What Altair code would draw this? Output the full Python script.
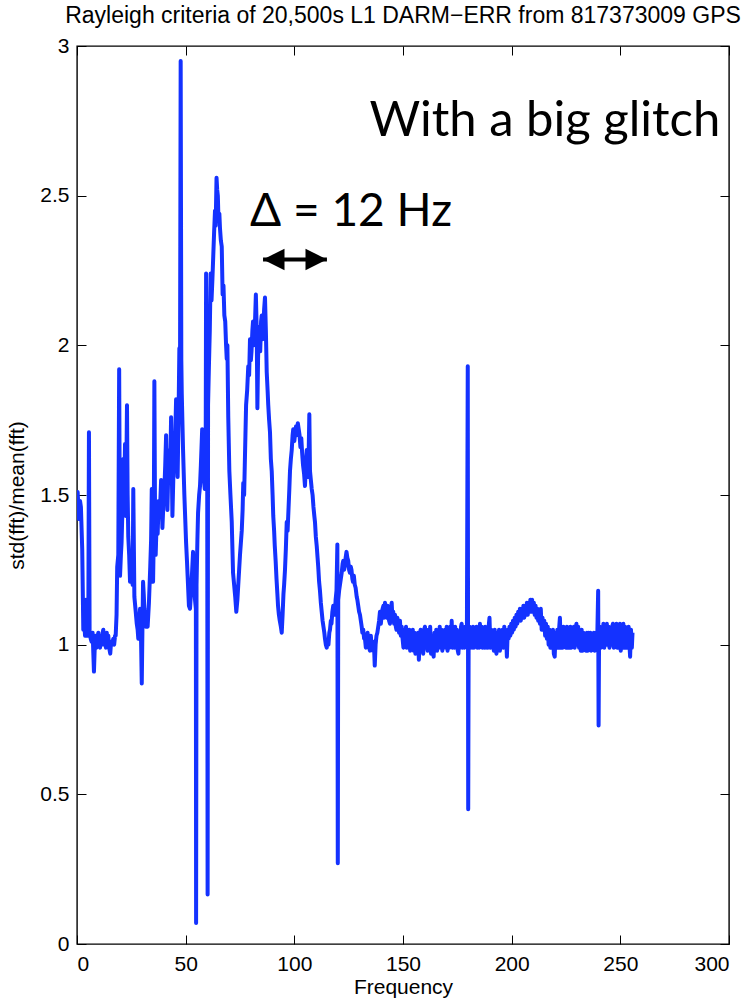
import altair as alt
import pandas as pd

# ---- curve: std(fft)/mean(fft) versus frequency ----
SEG_A_F = [0.0, 0.3, 0.9, 1.4, 1.8, 2.4, 2.9, 3.3, 3.7, 4.1, 4.7, 5.2, 5.5, 5.8, 6.3, 6.7, 7.2, 7.8, 8.2, 8.6,
           9.0, 9.4, 9.8, 10.2, 10.6, 11.0, 11.4, 11.8, 12.1, 12.5, 12.9, 13.3, 13.7, 14.0, 14.4, 14.8, 15.3, 15.7,
           16.1, 16.7, 17.1, 17.5, 17.8, 18.2, 18.5, 19.0, 19.4, 19.8, 20.2, 20.5, 20.9, 21.3, 21.7, 22.1, 22.5,
           23.0, 23.3, 23.6, 24.0, 24.4, 24.8, 25.2, 25.6, 25.9, 26.4, 26.9, 27.5, 27.9, 28.2, 28.6, 29.0, 29.4,
           29.8, 30.1, 30.4, 30.7, 31.0, 31.4, 31.7, 32.1, 32.5, 33.1, 33.7, 34.1, 34.4, 34.7, 35.0, 35.3, 35.6,
           35.9, 36.2, 36.6, 37.1, 37.6, 38.2, 38.7, 39.3, 39.8, 40.2, 40.6, 41.0, 41.3, 41.6, 42.0, 42.5, 42.9,
           43.3, 43.6, 43.9, 44.3, 44.8, 45.2, 45.6, 46.0, 46.3, 46.7, 47.1, 47.4, 47.7, 48.0]
SEG_A_V = [1.50, 1.51, 1.42, 1.48, 1.46, 1.32, 1.05, 1.08, 1.03, 1.15, 1.03, 1.05, 1.71, 1.04, 1.02, 1.01, 1.04,
           0.91, 1.00, 1.03, 0.99, 1.02, 1.04, 1.00, 0.99, 1.03, 1.00, 1.04, 1.05, 1.00, 1.03, 0.99, 1.04, 1.01,
           1.03, 0.99, 0.97, 1.01, 1.00, 1.02, 1.00, 1.03, 1.03, 1.10, 1.26, 1.30, 1.92, 1.23, 1.30, 1.34, 1.45,
           1.62, 1.50, 1.67, 1.43, 1.80, 1.50, 1.36, 1.30, 1.21, 1.24, 1.26, 1.20, 1.52, 1.16, 1.12, 1.07, 1.05,
           1.02, 1.06, 1.12, 1.05, 0.87, 1.05, 1.21, 1.17, 1.12, 1.08, 1.06, 1.10, 1.06, 1.14, 1.26, 1.35, 1.52,
           1.40, 1.21, 1.35, 1.88, 1.45, 1.30, 1.40, 1.37, 1.48, 1.45, 1.55, 1.39, 1.48, 1.52, 1.60, 1.70, 1.55,
           1.45, 1.58, 1.65, 1.60, 1.76, 1.60, 1.43, 1.55, 1.65, 1.70, 1.82, 1.68, 1.56, 1.75, 1.99, 1.90, 2.95,
           1.95]

SEG_B_F = [48.2, 48.8, 49.4, 49.8, 50.2, 50.6, 50.9, 51.5, 52.0, 52.5, 53.0, 53.4, 53.8, 54.3, 54.7, 54.8, 55.0,
           55.4, 55.7, 56.2, 56.6, 57.0, 57.6, 58.0, 58.4, 58.8, 59.2, 59.4, 59.6, 59.9, 60.1, 60.3, 60.7, 61.1,
           61.5, 61.9, 62.3, 62.7, 63.1, 63.5, 63.8, 64.2, 64.5, 64.8, 65.1, 65.5, 65.8, 66.2, 66.6, 67.0, 67.4,
           67.8, 68.2, 68.6, 68.9, 69.2, 69.6, 70.1, 70.6, 71.2, 71.8, 72.3, 72.8, 73.3, 73.8, 74.2, 74.6, 75.0,
           75.4, 75.8, 76.2, 76.5, 76.9, 77.2, 77.5, 77.8, 78.3, 78.8, 79.2, 79.6, 80.0, 80.3, 80.7, 81.0, 81.4,
           81.7, 82.0, 82.3, 82.7, 83.0, 83.3, 83.6, 84.0, 84.3, 84.7, 85.0, 85.4, 85.7, 86.1, 86.5, 86.9, 87.3,
           87.7, 88.0, 88.4, 88.8, 89.2, 89.6, 90.0, 90.3, 90.7, 91.0, 91.4, 91.8, 92.2, 92.5, 92.9, 93.3, 93.8,
           94.2, 94.6, 95.0, 95.3, 95.7, 96.1, 96.5, 96.9, 97.3, 97.7, 98.0, 98.4, 98.8, 99.2, 99.5]
SEG_B_V = [1.84, 1.65, 1.50, 1.42, 1.34, 1.28, 1.23, 1.13, 1.12, 1.18, 1.25, 1.31, 1.20, 1.15, 1.12, 0.07, 1.20,
           1.35, 1.44, 1.50, 1.53, 1.60, 1.72, 1.61, 1.55, 1.52, 1.60, 2.24, 1.70, 1.72, 0.165, 1.80, 1.93, 2.05,
           2.24, 2.15, 2.22, 2.30, 2.38, 2.45, 2.40, 2.56, 2.52, 2.50, 2.42, 2.44, 2.39, 2.35, 2.33, 2.17, 2.20,
           2.10, 2.08, 2.00, 1.955, 2.00, 1.76, 1.58, 1.50, 1.41, 1.24, 1.20, 1.16, 1.11, 1.15, 1.20, 1.25, 1.30,
           1.34, 1.38, 1.45, 1.54, 1.50, 1.60, 1.70, 1.80, 1.85, 1.93, 1.90, 2.02, 1.95, 1.98, 2.05, 2.08, 2.00,
           2.03, 2.10, 2.17, 2.05, 1.79, 1.95, 2.06, 2.00, 1.98, 2.08, 2.10, 2.02, 2.05, 2.12, 2.16, 2.05, 1.91,
           1.85, 1.80, 1.75, 1.71, 1.62, 1.58, 1.50, 1.43, 1.38, 1.33, 1.28, 1.22, 1.17, 1.13, 1.10, 1.08, 1.06,
           1.04, 1.10, 1.17, 1.20, 1.25, 1.32, 1.41, 1.38, 1.45, 1.52, 1.58, 1.62, 1.65, 1.70, 1.72]

SEG_C_F = [100.0, 100.4, 100.8, 101.2, 101.6, 102.0, 102.4, 102.8, 103.2, 103.6, 104.0, 104.5, 104.9, 105.3,
           105.7, 106.1, 106.5, 106.9, 107.2, 107.6, 108.0, 108.4, 108.8, 109.2, 109.5, 109.9, 110.3, 110.7,
           111.0, 111.4, 111.8, 112.2, 112.6, 113.0, 113.4, 113.8, 114.1, 114.5, 114.9, 115.3, 115.7, 116.1,
           116.4, 116.8, 117.1, 117.5, 117.9, 118.3, 118.6, 119.0, 119.4, 119.8, 120.0, 120.2, 120.6, 121.0,
           121.4, 121.8, 122.2, 122.5, 122.9, 123.2, 123.6, 124.0, 124.4, 124.8, 125.2, 125.6, 126.0, 126.3,
           126.7, 127.0, 127.4, 127.8, 128.2, 128.7, 129.0, 129.4, 129.8, 130.2, 130.6, 131.0, 131.3, 131.7,
           132.1, 132.5, 132.9, 133.3, 133.7, 134.0, 134.4, 134.8, 135.2, 135.5, 135.9, 136.2, 136.6, 137.0,
           137.4, 137.8, 138.2, 138.6, 139.0, 139.4, 139.8, 140.2, 140.6, 141.0, 141.3, 141.7, 142.1, 142.5,
           142.9, 143.2, 143.6, 144.0, 144.4, 144.8, 145.1, 145.5, 145.9, 146.3, 146.7, 147.0, 147.4, 147.8,
           148.2, 148.6, 149.0, 149.4, 149.8]
SEG_C_V = [1.68, 1.71, 1.73, 1.70, 1.74, 1.72, 1.70, 1.66, 1.69, 1.64, 1.60, 1.57, 1.53, 1.60, 1.65, 1.56, 1.60,
           1.77, 1.58, 1.55, 1.52, 1.50, 1.46, 1.43, 1.41, 1.36, 1.33, 1.29, 1.26, 1.21, 1.18, 1.14, 1.11, 1.08,
           1.06, 1.04, 1.02, 1.00, 0.99, 1.01, 1.00, 1.04, 1.05, 1.08, 1.07, 1.11, 1.13, 1.10, 1.10, 1.15, 1.18,
           1.335, 0.27, 1.15, 1.18, 1.20, 1.22, 1.24, 1.27, 1.28, 1.25, 1.26, 1.29, 1.31, 1.29, 1.28, 1.25, 1.24,
           1.26, 1.25, 1.22, 1.21, 1.23, 1.20, 1.19, 1.16, 1.15, 1.13, 1.11, 1.10, 1.08, 1.06, 1.04, 1.05, 1.02,
           1.02, 0.99, 1.02, 1.04, 1.02, 0.99, 0.98, 1.03, 1.00, 0.99, 0.98, 1.01, 0.93, 1.00, 1.03, 1.04, 1.06,
           1.08, 1.11, 1.07, 1.10, 1.12, 1.13, 1.09, 1.14, 1.10, 1.09, 1.13, 1.11, 1.08, 1.07, 1.12, 1.14, 1.09,
           1.11, 1.07, 1.10, 1.06, 1.05, 1.09, 1.07, 1.04, 1.08, 1.03, 1.06, 1.02]

SEG_D_F = [150.2, 150.6, 151.0, 151.4, 151.7, 152.1, 152.5, 152.9, 153.3, 153.7, 154.1, 154.5, 154.9, 155.3,
           155.7, 156.1, 156.5, 156.9, 157.3, 157.7, 158.1, 158.5, 158.9, 159.3, 159.7, 160.1, 160.5, 160.9,
           161.3, 161.7, 162.1, 162.5, 162.9, 163.3, 163.7, 164.1, 164.5, 164.9, 165.3, 165.7, 166.1, 166.5,
           166.9, 167.3, 167.7, 168.1, 168.5, 168.9, 169.3, 169.7, 170.1, 170.5, 170.9, 171.3, 171.7, 172.1,
           172.4, 172.8, 173.2, 173.6, 174.0, 174.4, 174.8, 175.2, 175.5, 175.9, 176.3, 176.7, 177.0, 177.4,
           177.8, 178.2, 178.6, 179.0, 179.4, 179.8, 180.0, 180.2, 180.6, 181.0, 181.4, 181.8, 182.2, 182.6,
           183.0, 183.4, 183.8, 184.2, 184.6, 185.0, 185.4, 185.8, 186.2, 186.6, 187.0, 187.4, 187.8, 188.2,
           188.6, 189.0, 189.4, 189.8, 190.2, 190.6, 191.0, 191.4, 191.8, 192.2, 192.6, 193.0, 193.4, 193.8,
           194.2, 194.6, 195.0, 195.4, 195.8, 196.2, 196.6, 197.0, 197.4, 197.8, 198.2, 198.6, 199.0, 199.4,
           199.8]
SEG_D_V = [0.99, 1.05, 1.00, 1.06, 0.99, 1.04, 0.99, 1.05, 0.98, 1.04, 0.99, 1.05, 0.98, 1.04, 0.97, 1.03, 0.98,
           1.04, 0.95, 1.02, 1.05, 0.98, 1.04, 0.97, 1.05, 1.06, 0.99, 1.05, 0.98, 1.04, 0.99, 1.06, 0.97, 1.03,
           0.98, 0.96, 1.04, 0.99, 1.05, 0.98, 1.04, 0.99, 1.06, 0.99, 1.05, 0.98, 1.04, 0.99, 1.05, 0.99, 1.06,
           0.98, 1.05, 0.99, 1.06, 1.00, 1.08, 0.99, 1.05, 0.99, 1.06, 0.99, 1.05, 0.98, 0.97, 1.04, 0.99, 1.06,
           1.07, 0.99, 1.05, 0.99, 1.06, 1.00, 1.04, 1.93, 0.45, 1.00, 1.06, 0.99, 1.05, 0.99, 1.06, 0.99, 1.05,
           1.00, 1.06, 0.99, 1.05, 0.99, 1.07, 1.00, 1.06, 0.99, 1.05, 0.99, 1.06, 0.99, 1.04, 0.99, 1.06, 1.09,
           0.99, 1.05, 0.99, 1.04, 0.98, 1.05, 0.99, 0.97, 1.04, 0.99, 1.05, 0.98, 1.04, 0.99, 1.05, 0.99, 1.06,
           0.99, 1.04, 0.96, 1.05, 1.02, 1.06, 1.03, 1.07]

SEG_E_F = [200.2, 200.6, 201.0, 201.4, 201.8, 202.2, 202.6, 203.0, 203.4, 203.8, 204.2, 204.6, 205.0, 205.4,
           205.8, 206.2, 206.6, 207.0, 207.4, 207.8, 208.2, 208.6, 209.0, 209.4, 209.8, 210.2, 210.6, 211.0,
           211.4, 211.8, 212.2, 212.6, 213.0, 213.4, 213.8, 214.2, 214.6, 215.0, 215.4, 215.8, 216.2, 216.6,
           217.0, 217.4, 217.8, 218.2, 218.6, 219.0, 219.4, 219.8, 220.2, 220.6, 221.0, 221.4, 221.8, 222.2,
           222.6, 223.0, 223.4, 223.8, 224.2, 224.6, 225.0, 225.4, 225.8, 226.2, 226.6, 227.0, 227.4, 227.8,
           228.2, 228.6, 229.0, 229.4, 229.8, 230.2, 230.6, 231.0, 231.4, 231.8, 232.2, 232.6, 233.0, 233.4,
           233.8, 234.2, 234.6, 235.0, 235.4, 235.8, 236.2, 236.6, 237.0, 237.4, 237.8, 238.2, 238.6, 239.0,
           239.4, 239.8, 240.0, 240.2, 240.6, 241.0, 241.4, 241.8, 242.2, 242.6, 243.0, 243.4, 243.8, 244.2,
           244.6, 245.0, 245.4, 245.8, 246.2, 246.6, 247.0, 247.4, 247.8, 248.2, 248.6, 249.0, 249.4, 249.8,
           250.2, 250.6, 251.0, 251.4, 251.8, 252.2, 252.6, 253.0, 253.4, 253.8, 254.2, 254.5, 254.9, 255.3,
           255.6]
SEG_E_V = [1.04, 1.08, 1.05, 1.09, 1.06, 1.10, 1.07, 1.11, 1.08, 1.12, 1.08, 1.12, 1.09, 1.13, 1.09, 1.13, 1.10,
           1.14, 1.10, 1.14, 1.11, 1.15, 1.11, 1.15, 1.11, 1.14, 1.10, 1.13, 1.09, 1.12, 1.08, 1.11, 1.07, 1.12,
           1.05, 1.09, 1.05, 1.08, 1.03, 1.07, 1.02, 1.06, 1.00, 1.05, 0.99, 1.04, 0.99, 1.05, 0.97, 0.96, 1.04,
           0.99, 1.05, 0.99, 1.05, 1.09, 0.99, 1.05, 0.99, 1.06, 1.00, 1.05, 0.99, 1.06, 0.99, 1.04, 0.99, 1.06,
           0.99, 1.05, 1.00, 1.06, 0.99, 1.05, 1.07, 1.00, 1.06, 0.99, 1.04, 0.98, 1.05, 0.98, 1.04, 0.99, 1.03,
           0.98, 1.04, 0.98, 1.04, 0.99, 1.04, 0.98, 1.03, 0.99, 1.04, 0.98, 1.04, 0.99, 1.03, 1.18, 0.73, 1.00,
           1.06, 0.99, 1.05, 1.00, 1.07, 0.99, 1.05, 1.00, 1.07, 1.00, 1.06, 0.99, 1.05, 1.00, 1.06, 1.07, 0.99,
           1.05, 1.00, 1.07, 0.99, 1.06, 1.00, 1.07, 0.98, 1.05, 0.99, 1.07, 0.99, 1.06, 0.99, 1.05, 0.99, 1.06,
           1.00, 0.96, 1.05, 0.99, 1.04]

X_TICKS = [0, 50, 100, 150, 200, 250, 300]
Y_TICKS = [0, 0.5, 1, 1.5, 2, 2.5, 3]

TITLE = "Rayleigh criteria of 20,500s L1 DARM\u2212ERR from 817373009 GPS"
X_TITLE = "Frequency"
Y_TITLE = "std(fft)/mean(fft)"

# annotations (data coordinates)
NOTE_TEXT = ["With a big glitch", "\u0394 = 12 Hz"]
NOTE_X = [296.0, 79.6]
NOTE_Y = [2.70, 2.397]
ARROW_X = [85.6, 115.0]
ARROW_Y = [2.287, 2.287]

freq = SEG_A_F + SEG_B_F + SEG_C_F + SEG_D_F + SEG_E_F
ratio = SEG_A_V + SEG_B_V + SEG_C_V + SEG_D_V + SEG_E_V
df = pd.DataFrame({"f": freq, "v": ratio})

BLUE = "#1432ff"
FONT = "Liberation Sans"
TICK = 9

xscale = alt.Scale(domain=[0, 300], nice=False, zero=False)
yscale = alt.Scale(domain=[0, 3], nice=False, zero=False)

common_axis = dict(grid=False, domain=False, tickSize=TICK, offset=-TICK, tickColor="black",
                   tickWidth=1, labelFont=FONT, labelFontSize=21, labelColor="black",
                   titleFont=FONT, titleFontSize=21, titleFontWeight="normal", titleColor="black")

line = alt.Chart(df).mark_line(color=BLUE, strokeWidth=4, clip=True, strokeJoin="round").encode(
    x=alt.X("f:Q", scale=xscale,
            axis=alt.Axis(values=X_TICKS, title=X_TITLE, orient="bottom", labelPadding=9,
                          titlePadding=2, **common_axis)),
    y=alt.Y("v:Q", scale=yscale,
            axis=alt.Axis(values=Y_TICKS, format="~g", title=Y_TITLE, orient="left", labelPadding=8,
                          titlePadding=12, **common_axis)),
)

mirror = alt.Chart(df).mark_line(opacity=0).encode(
    x=alt.X("f:Q", scale=xscale,
            axis=alt.Axis(values=X_TICKS, orient="top", labels=False, title=None, **common_axis)),
    y=alt.Y("v:Q", scale=yscale,
            axis=alt.Axis(values=Y_TICKS, orient="right", labels=False, title=None, **common_axis)),
)

notes_df = pd.DataFrame({"t": NOTE_TEXT, "x": NOTE_X, "y": NOTE_Y})
glitch = alt.Chart(notes_df.iloc[[0]]).mark_text(
    font="Lato", fontSize=49, align="right", baseline="alphabetic", color="black"
).encode(x=alt.X("x:Q", scale=xscale, axis=None), y=alt.Y("y:Q", scale=yscale, axis=None), text="t:N")
delta = alt.Chart(notes_df.iloc[[1]]).mark_text(
    font="Lato", fontSize=46, align="left", baseline="alphabetic", color="black"
).encode(x=alt.X("x:Q", scale=xscale, axis=None), y=alt.Y("y:Q", scale=yscale, axis=None), text="t:N")

arrow_df = pd.DataFrame({"x": [ARROW_X[0]], "x2": [ARROW_X[1]], "y": [ARROW_Y[0]]})
shaft = alt.Chart(arrow_df).mark_rule(color="black", strokeWidth=4).encode(
    x=alt.X("x:Q", scale=xscale, axis=None), x2="x2:Q", y=alt.Y("y:Q", scale=yscale, axis=None))

head_df = pd.DataFrame({"x": ARROW_X, "y": ARROW_Y})
head_left = alt.Chart(head_df.iloc[[0]]).mark_point(
    shape="M0,0L2,-1L2,1Z", size=460, filled=True, color="black", opacity=1, strokeWidth=0
).encode(x=alt.X("x:Q", scale=xscale, axis=None), y=alt.Y("y:Q", scale=yscale, axis=None))
head_right = alt.Chart(head_df.iloc[[1]]).mark_point(
    shape="M0,0L-2,-1L-2,1Z", size=460, filled=True, color="black", opacity=1, strokeWidth=0
).encode(x=alt.X("x:Q", scale=xscale, axis=None), y=alt.Y("y:Q", scale=yscale, axis=None))

chart = alt.layer(line, mirror, glitch, delta, shaft, head_left, head_right).resolve_axis(
    x="independent", y="independent"
).properties(
    width=652, height=898,
    title=alt.TitleParams(TITLE, font=FONT, fontSize=23, fontWeight="normal", color="black",
                          anchor="middle", offset=7),
    autosize=alt.AutoSizeParams(type="none"),
    padding={"left": 77, "top": 46, "right": 23, "bottom": 56},
    background="white",
).configure_view(stroke="black", strokeWidth=1.4)

chart.save("out.html", embed_options={"renderer": "svg", "actions": False})
